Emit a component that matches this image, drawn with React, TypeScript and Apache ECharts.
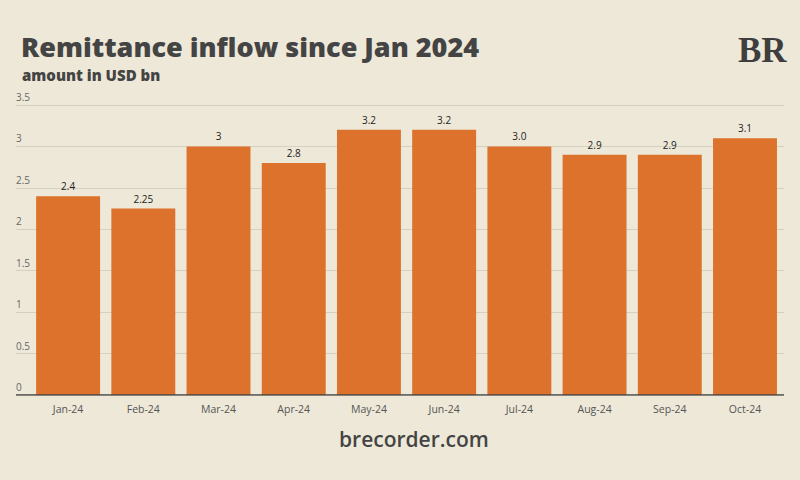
import React, { useEffect, useRef } from "react";
import * as echarts from "echarts";

const categories = ["Jan-24", "Feb-24", "Mar-24", "Apr-24", "May-24", "Jun-24", "Jul-24", "Aug-24", "Sep-24", "Oct-24"];
const values = [2.4, 2.25, 3, 2.8, 3.2, 3.2, 3.0, 2.9, 2.9, 3.1];
const valueLabels = ["2.4", "2.25", "3", "2.8", "3.2", "3.2", "3.0", "2.9", "2.9", "3.1"];
const yMin = 0;
const yMax = 3.5;
const yInterval = 0.5;

export default function App() {
  const ref = useRef<HTMLDivElement>(null);
  useEffect(() => {
    if (!ref.current) return;
    const chart = echarts.init(ref.current, null, { renderer: "svg" });
    const font = "'Open Sans', 'Noto Sans', sans-serif";
    chart.setOption({
      animation: false,
      backgroundColor: "#EEE8D8",
      title: [
        {
          text: "Remittance inflow since Jan 2024",
          left: 16,
          top: 28,
          textStyle: { fontFamily: "'Open Sans', sans-serif", fontWeight: 800, fontSize: 27, color: "#444444" },
        },
        {
          text: "amount in USD bn",
          left: 17,
          top: 62,
          textStyle: { fontFamily: "'Open Sans', sans-serif", fontWeight: 800, fontSize: 15, color: "#444444" },
        },
        {
          text: "BR",
          left: 733,
          top: 28,
          textStyle: { fontFamily: "'Liberation Serif', serif", fontWeight: "bold", fontSize: 35, color: "#3e3e3e" },
        },
        {
          text: "brecorder.com",
          left: 334,
          top: 423,
          textStyle: { fontFamily: font, fontWeight: 600, fontSize: 21, color: "#444444" },
        },
      ],
      grid: [
        { left: 16, right: 16, top: 105, bottom: 85 },
        { left: 30.5, right: 17.4, top: 105, bottom: 85 },
      ],
      xAxis: [
        {
          type: "value",
          gridIndex: 0,
          show: true,
          min: 0,
          max: 1,
          axisLine: { show: false },
          axisTick: { show: false },
          axisLabel: { show: false },
          splitLine: { show: false },
        },
        {
          type: "category",
          gridIndex: 1,
          data: categories,
          axisLine: { show: false },
          axisTick: { show: false },
          axisLabel: { color: "#555555", fontSize: 10.5, fontFamily: font, margin: 8 },
        },
      ],
      yAxis: [
        {
          type: "value",
          gridIndex: 0,
          min: yMin,
          max: yMax,
          interval: yInterval,
          axisLine: { show: false },
          axisTick: { show: false },
          axisLabel: {
            inside: true,
            align: "left",
            verticalAlign: "bottom",
            margin: 0,
            padding: [0, 0, 3, 0],
            color: "#666666",
            fontSize: 10,
            fontFamily: font,
          },
          splitLine: { show: true, lineStyle: { color: "#D6D0C0", width: 1 } },
        },
        {
          type: "value",
          gridIndex: 1,
          min: yMin,
          max: yMax,
          interval: yInterval,
          show: false,
          splitLine: { show: false },
        },
      ],
      series: [
        {
          type: "line",
          xAxisIndex: 0,
          yAxisIndex: 0,
          data: [[0, 0], [1, 0]],
          symbol: "none",
          lineStyle: { color: "#444444", width: 1.5 },
          silent: true,
          z: 5,
        },
        {
          type: "bar",
          xAxisIndex: 1,
          yAxisIndex: 1,
          data: values,
          barCategoryGap: "15%",
          itemStyle: { color: "#DC722B" },
          label: {
            show: true,
            position: "top",
            distance: 5,
            color: "#222222",
            fontSize: 10,
            fontFamily: font,
            formatter: (p: any) => valueLabels[p.dataIndex],
          },
          z: 3,
        },
      ],
    });
    return () => chart.dispose();
  }, []);
  return <div ref={ref} style={{ width: 800, height: 480, position: "fixed", left: 0, top: 0 }} />;
}
